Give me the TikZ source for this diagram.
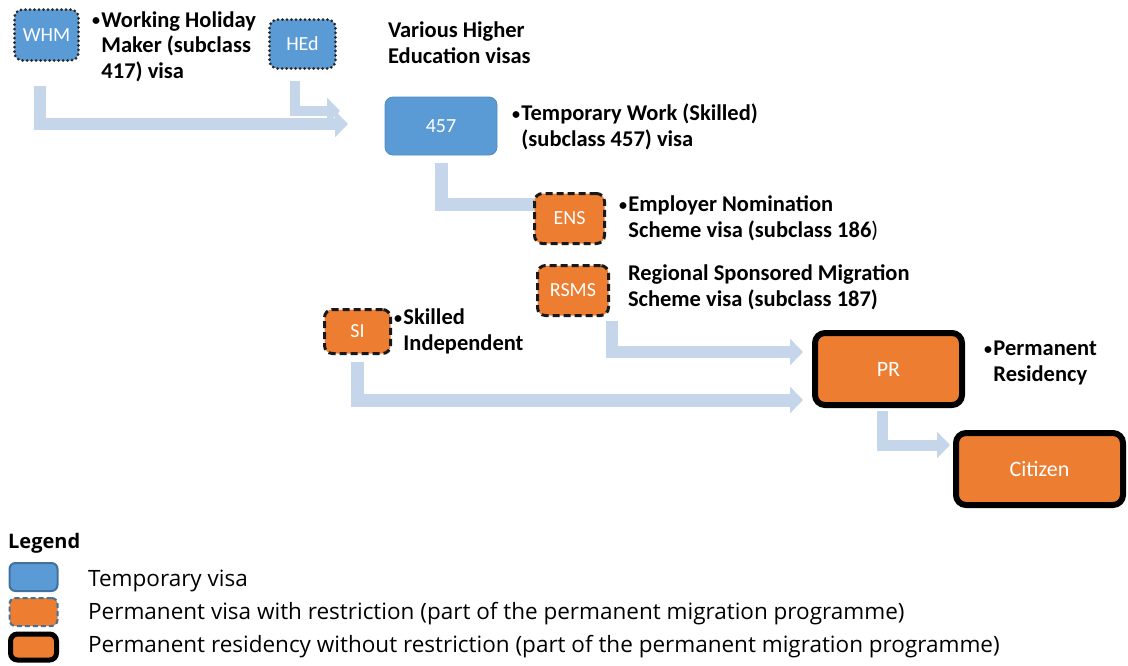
\documentclass[tikz,border=0pt]{standalone}
\usepackage{fontspec}
\setmainfont{Carlito}
\newfontfamily\legfont{Open Sans}
\usetikzlibrary{arrows.meta,backgrounds}
\definecolor{vblue}{HTML}{5B9BD5}
\definecolor{vblueb}{HTML}{41719C}
\definecolor{vorange}{HTML}{ED7D31}
\definecolor{flowc}{HTML}{C5D5EA}
\newcommand{\vbul}{\raisebox{1.5pt}{\fontsize{16}{16}\selectfont\textbullet}\hspace{1.5pt}}
\newcommand{\vind}{\hphantom{\vbul}}
\begin{document}
\begin{tikzpicture}[x=1pt,y=-1pt,
  box/.style={rounded corners=8pt, inner sep=0pt, outer sep=0pt, text=white, font=\fontsize{20}{23}\selectfont},
  tempdot/.style={box, fill=vblue, draw=black!85, line width=3pt, dash pattern=on 0pt off 4.5pt, line cap=round},
  tempbox/.style={box, fill=vblue, draw=vblue!90!black, line width=0.8pt},
  permdash/.style={box, fill=vorange, draw=black!90, line width=3pt, dash pattern=on 7pt off 4pt},
  permres/.style={box, rounded corners=10pt, fill=vorange, draw=black, line width=6pt, font=\fontsize{22}{25}\selectfont},
  lbl/.style={anchor=base west, inner sep=0pt, outer sep=0pt, align=left, font=\bfseries\fontsize{22.5}{25.5}\selectfont},
  flow/.style={draw=flowc, line width=12pt, line join=miter, -{Triangle[width=26pt,length=13pt]}},
  bar/.style={draw=flowc, line width=13pt, line join=miter},
  legtxt/.style={anchor=base west, inner sep=0pt, font=\legfont\fontsize{22.5}{26}\selectfont}
]
\useasboundingbox (0,0) rectangle (1128,665);

% nodes
\node[tempdot, minimum width=64pt, minimum height=51pt] (WHM) at (46.5,35) {WHM};
\node[tempdot, minimum width=66pt, minimum height=49pt] (HEd) at (302.5,44) {HEd};
\node[tempbox, minimum width=112pt, minimum height=58pt] (P457) at (441,126) {457};
\node[permdash, minimum width=70pt, minimum height=50pt] (ENS) at (569.5,218.5) {ENS};
\node[permdash, minimum width=71pt, minimum height=50pt] (RSMS) at (573,290.5) {RSMS};
\node[permdash, minimum width=66pt, minimum height=44pt] (SI) at (357.5,331.5) {SI};
\node[permres, minimum width=147pt, minimum height=72pt] (PR) at (888.5,369) {PR};
\node[permres, minimum width=167pt, minimum height=72pt] (CIT) at (1039.5,469) {Citizen};

% labels (anchor base = baseline of last line)
\node[lbl] (tWHM) at (92,78) {\vbul Working Holiday\\\vind Maker (subclass\\\vind 417) visa};
\node[lbl] (tHEd) at (388,63) {Various Higher\\Education visas};
\node[lbl] (t457) at (512,146) {\vbul Temporary Work (Skilled)\\\vind (subclass 457) visa};
\node[lbl] (tENS) at (619,237) {\vbul Employer Nomination\\\vind Scheme visa (subclass 186{\mdseries )}};
\node[lbl] (tRSMS) at (628,306) {Regional Sponsored Migration\\Scheme visa (subclass 187)};
\node[lbl] (tSI) at (394,350) {\vbul Skilled\\\vind Independent};
\node[lbl] (tPR) at (984,381) {\vbul Permanent\\\vind Residency};

% connectors
\begin{scope}[on background layer]
\draw[flow] ([xshift=-6.5pt,yshift=-25pt]WHM.south) |- ([xshift=-37pt,yshift=2pt]P457.west);
\draw[flow, line width=10pt] ([xshift=-7.5pt,yshift=-12pt]HEd.south) |- ([xshift=-45pt,yshift=15pt]P457.west);
\draw[bar] ([yshift=-8pt]P457.south) |- ([xshift=10pt,yshift=14pt]ENS.west);
\draw[flow] ([xshift=39pt,yshift=-5pt]RSMS.south) |- ([xshift=-12pt,yshift=17pt]PR.west);
\draw[flow, line width=13pt] ([yshift=-8pt]SI.south) |- ([xshift=-12pt,yshift=-31pt]PR.west);
\draw[flow, line width=11pt] ([xshift=-6.5pt,yshift=-6pt]PR.south) |- ([xshift=-6pt,yshift=24pt]CIT.west);
\end{scope}

% legend
\node[anchor=base west, inner sep=0pt, font=\legfont\bfseries\fontsize{20}{24}\selectfont] (leg) at (8,548) {Legend};
\node[box, fill=vblue, draw=vblueb, line width=2pt, rounded corners=6pt, minimum width=48pt, minimum height=28pt] (L1) at (33.5,577) {};
\node[box, fill=vorange, draw=vblueb, line width=2pt, dash pattern=on 5pt off 3pt, rounded corners=6pt, minimum width=48pt, minimum height=28pt] (L2) at (33.5,612) {};
\node[box, fill=vorange, draw=black, line width=5pt, rounded corners=7pt, minimum width=46pt, minimum height=26pt] (L3) at (33.5,647) {};
\node[legtxt] (l1) at (88,586) {Temporary visa};
\node[legtxt] (l2) at (88,619) {Permanent visa with restriction (part of the permanent migration programme)};
\node[legtxt] (l3) at (88,652) {Permanent residency without restriction (part of the permanent migration programme)};
\end{tikzpicture}
\end{document}
